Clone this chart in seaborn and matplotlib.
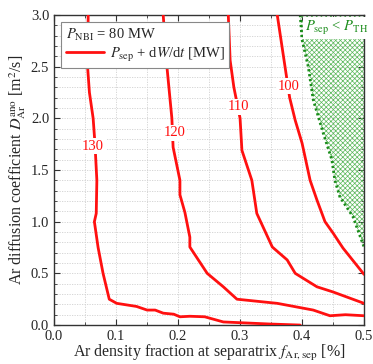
import numpy as np
import pandas as pd
import matplotlib
matplotlib.use('Agg')
import matplotlib.pyplot as plt
from matplotlib.ticker import MultipleLocator
import seaborn as sns

# contour lines of P_sep + dW/dt [MW]
c130_x = [0.055, 0.054, 0.057, 0.063, 0.066, 0.067, 0.069, 0.068, 0.065, 0.071, 0.079, 0.089,
          0.101, 0.133, 0.150, 0.163, 0.176, 0.193, 0.203, 0.219, 0.243, 0.273, 0.348, 0.397]
c130_y = [3.0, 2.5, 2.25, 2.0, 1.75, 1.63, 1.40, 1.08, 1.0, 0.75, 0.5, 0.25,
          0.21, 0.18, 0.145, 0.145, 0.115, 0.105, 0.08, 0.085, 0.08, 0.03, 0.01, 0.0]

c120_x = [0.176, 0.182, 0.190, 0.192, 0.203, 0.203, 0.211, 0.219, 0.219, 0.247, 0.273, 0.295,
          0.360, 0.418, 0.445, 0.470, 0.500]
c120_y = [3.0, 2.5, 2.0, 1.72, 1.40, 1.26, 1.09, 0.85, 0.755, 0.50, 0.37, 0.25,
          0.21, 0.145, 0.09, 0.10, 0.09]

c110_x = [0.281, 0.284, 0.290, 0.300, 0.303, 0.319, 0.327, 0.352, 0.376, 0.389, 0.424, 0.450, 0.500]
c110_y = [3.0, 2.56, 2.3, 2.0, 1.69, 1.40, 1.08, 0.755, 0.63, 0.50, 0.37, 0.32, 0.21]

c100_x = [0.360, 0.368, 0.380, 0.389, 0.400, 0.413, 0.424, 0.437, 0.450, 0.466, 0.500]
c100_y = [3.0, 2.68, 2.2, 1.98, 1.76, 1.40, 1.21, 1.0, 0.89, 0.745, 0.49]

levels = [130, 120, 110, 100]
label_x = [0.063, 0.194, 0.297, 0.379]
label_y = [1.73, 1.86, 2.11, 2.31]

# P_sep < P_TH boundary
bnd_x = [0.397, 0.400, 0.410, 0.418, 0.434, 0.448, 0.453, 0.461, 0.482, 0.500]
bnd_y = [3.0, 2.76, 2.5, 2.18, 1.86, 1.60, 1.40, 1.24, 1.05, 0.755]

sns.set_style('ticks')
plt.rcParams['font.family'] = ['Liberation Serif', 'DejaVu Serif']
plt.rcParams['mathtext.fontset'] = 'stix'
plt.rcParams['hatch.linewidth'] = 0.5

fig = plt.figure(figsize=(3.73, 3.64), dpi=100)
ax = fig.add_axes([0.145, 0.107, 0.831, 0.852])

curves = [(c130_x, c130_y), (c120_x, c120_y), (c110_x, c110_y), (c100_x, c100_y)]
for i, (cx, cy) in enumerate(curves):
    df = pd.DataFrame({'x': cx, 'y': cy})
    sns.lineplot(data=df, x='x', y='y', sort=False, estimator=None, ax=ax,
                 color='#ff1010', lw=2.0, zorder=3,
                 label='$P_\\mathrm{sep}$ + d$W$/d$t$ [MW]' if i == 0 else None)
    ax.text(label_x[i], label_y[i], str(levels[i]), color='#ff1010', fontsize=10.5,
            ha='center', va='center', zorder=4,
            bbox=dict(facecolor='white', edgecolor='none', pad=1.0))

ax.fill_betweenx(bnd_y, bnd_x, 0.5, facecolor='none', edgecolor='#5cb85c',
                 hatch='xxxxxxx', lw=0, zorder=1)
ax.plot(bnd_x, bnd_y, color='#1a8c1a', ls=(0, (0.8, 1.0)), lw=2.0, zorder=2)
ax.text(0.405, 2.87, '$P_\\mathrm{sep}$ < $P_\\mathrm{TH}$', color='#1a8c1a', fontsize=10.5,
        ha='left', va='center', zorder=3,
        bbox=dict(facecolor='white', edgecolor='none', pad=1.5))

ax.set_xlim(0, 0.5)
ax.set_ylim(0, 3.0)
ax.xaxis.set_major_locator(MultipleLocator(0.1))
ax.xaxis.set_minor_locator(MultipleLocator(0.05))
ax.yaxis.set_major_locator(MultipleLocator(0.5))
ax.yaxis.set_minor_locator(MultipleLocator(0.1))
ax.set_xticklabels([f'{v:.1f}' for v in ax.get_xticks()])
ax.set_yticklabels([f'{v:.1f}' for v in ax.get_yticks()])
ax.grid(True, which='both', color='#d0d0d0', ls=(0, (1.5, 1.5)), lw=0.6, zorder=0)
ax.set_axisbelow(True)
ax.tick_params(which='both', direction='in', top=True, right=True, labelsize=10.5, color='#333333')
ax.tick_params(which='major', length=4)
ax.tick_params(which='minor', length=2)
for s in ax.spines.values():
    s.set_color('#333333')
    s.set_linewidth(1.0)

ax.set_xlabel('Ar density fraction at separatrix $f_{\\mathrm{Ar,sep}}$ [%]', fontsize=11.5, labelpad=0)
ax.set_ylabel('Ar diffusion coefficient $D_{\\mathrm{Ar}}^{\\mathrm{ano}}$ [m$^2$/s]', fontsize=11.5, labelpad=2)

leg = ax.legend(loc='upper left', title='$P_\\mathrm{NBI}$ = 80 MW', fontsize=10.5, title_fontsize=10.5,
                fancybox=False, edgecolor='#888888', framealpha=1, handlelength=2.6,
                borderpad=0.3, labelspacing=0.2, handletextpad=0.4, borderaxespad=0.5)
leg._legend_box.align = 'left'
leg.get_frame().set_linewidth(0.8)
leg.set_zorder(5)

fig.savefig('out.png', dpi=100)
